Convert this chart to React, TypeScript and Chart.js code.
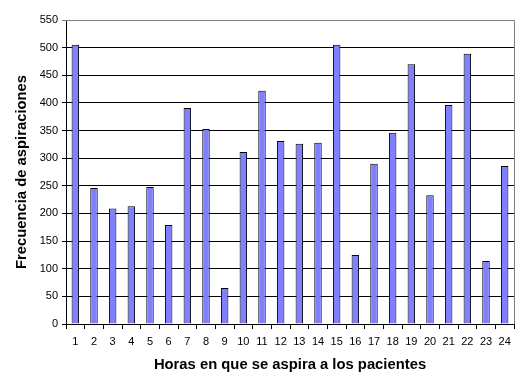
import React, { useEffect, useRef } from "react";
import { Chart, registerables } from "chart.js";

Chart.register(...registerables);

const categories = ["1","2","3","4","5","6","7","8","9","10","11","12","13","14","15","16","17","18","19","20","21","22","23","24"];
const values = [505, 246, 209, 213, 248, 179, 391, 353, 65, 311, 422, 331, 326, 328, 505, 125, 290, 346, 470, 233, 396, 489, 114, 286];
const yMax = 550;
const yStep = 50;
const xTitle = "Horas en que se aspira a los pacientes";
const yTitle = "Frecuencia de aspiraciones";

const frame = {
  id: "frame",
  afterDatasetsDraw(chart: any) {
    const { ctx, chartArea } = chart;
    ctx.save();
    ctx.strokeStyle = "#808080";
    ctx.lineWidth = 1;
    ctx.beginPath();
    ctx.moveTo(chartArea.left, chartArea.top + 0.5);
    ctx.lineTo(chartArea.right + 0.5, chartArea.top + 0.5);
    ctx.lineTo(chartArea.right + 0.5, chartArea.bottom);
    ctx.stroke();
    ctx.restore();
  },
};

export default function App() {
  const ref = useRef<HTMLCanvasElement>(null);
  useEffect(() => {
    const chart = new Chart(ref.current!, {
      type: "bar",
      data: {
        labels: categories,
        datasets: [
          {
            data: values,
            backgroundColor: "#8080FF",
            borderColor: "#000000",
            borderWidth: 1,
            barPercentage: 0.4,
            categoryPercentage: 1,
          },
        ],
      },
      options: {
        animation: false,
        responsive: false,
        layout: { padding: { top: 20, right: 10, left: 0, bottom: 0 } },
        plugins: { legend: { display: false }, tooltip: { enabled: false } },
        scales: {
          x: {
            afterFit(scale: any) { scale.height = 66; },
            grid: { display: true, drawOnChartArea: false, drawTicks: true, tickLength: 5, color: "#000000", offset: true },
            border: { color: "#000000" },
            ticks: { color: "#000000", font: { family: "Liberation Sans", size: 11 }, padding: 6, maxRotation: 0, autoSkip: false },
            title: { display: true, text: xTitle, color: "#000000", font: { family: "Liberation Sans", size: 14.8, weight: "bold" }, padding: { top: 0, bottom: 16 } },
          },
          y: {
            min: 0,
            max: yMax,
            afterFit(scale: any) { scale.width = 66; },
            grid: { color: (c: any) => (c.tick && c.tick.value === yMax ? "#808080" : "#000000"), tickLength: 4, drawTicks: true },
            border: { color: "#000000" },
            ticks: { stepSize: yStep, color: "#000000", font: { family: "Liberation Sans", size: 11 }, padding: 4 },
            title: { display: true, text: yTitle, color: "#000000", font: { family: "Liberation Sans", size: 14.8, weight: "bold" }, padding: { top: 13, bottom: 0 } },
          },
        },
      },
      plugins: [frame],
    });
    return () => chart.destroy();
  }, []);
  return (
    <div style={{ position: "fixed", left: 0, top: 0, width: 524, height: 390, background: "#fff" }}>
      <canvas ref={ref} width={524} height={390} />
    </div>
  );
}
